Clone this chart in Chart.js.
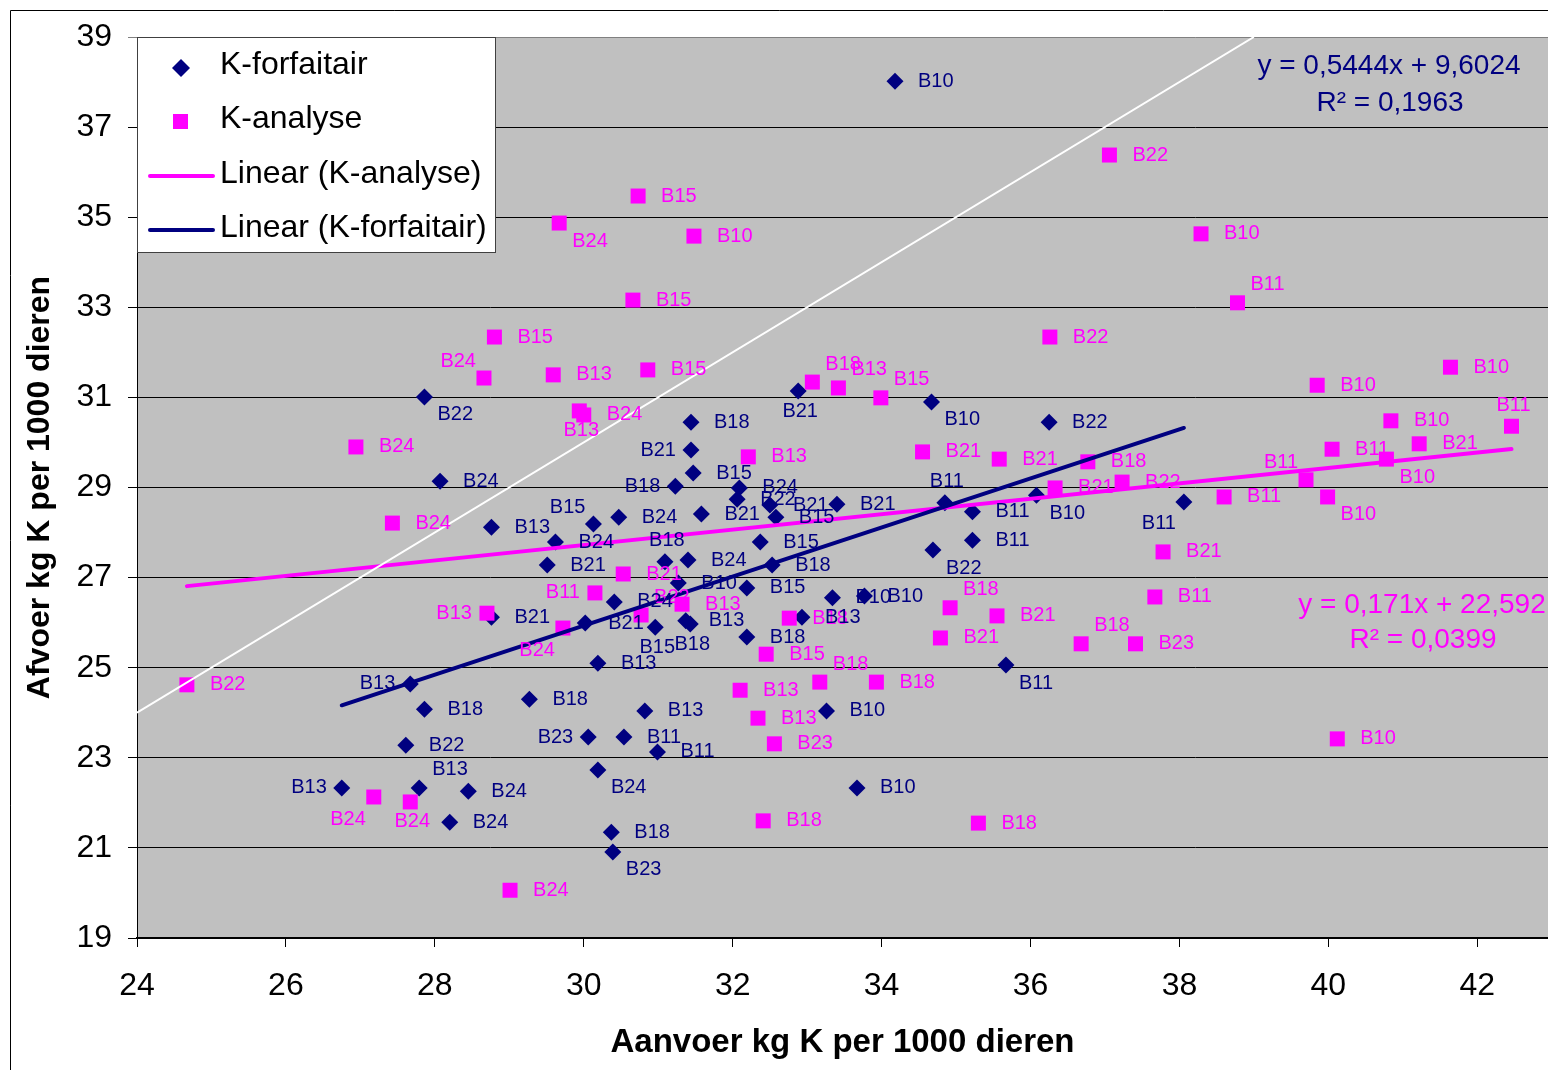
<!DOCTYPE html>
<html>
<head>
<meta charset="utf-8">
<script src="https://cdn.jsdelivr.net/npm/chart.js@4.4.1/dist/chart.umd.min.js"></script>
<style>
  html, body { margin: 0; padding: 0; background: #fff; }
  canvas { display: block; }
</style>
</head>
<body>
<canvas id="kChart" width="1548" height="1070" style="width:1548px;height:1070px"></canvas>
<script>
// Axis ticks
const xTicks = [24, 26, 28, 30, 32, 34, 36, 38, 40, 42];
const yTicks = [19, 21, 23, 25, 27, 29, 31, 33, 35, 37, 39];

// K-forfaitair: aanvoer (x), afvoer (y), bedrijf, plaats van het label
const forfaitairX = [34.18, 27.86, 28.07, 28.76, 30.13, 29.62, 29.51, 30.47, 28.76, 30.02,
                     30.41, 30.19, 30.96, 31.37, 31.43, 32.19, 32.19, 31.27, 31.09, 31.40,
                     31.44, 31.44, 31.47, 31.23, 32.09, 32.06, 32.50, 32.58, 31.58, 33.40,
                     32.37, 32.53, 32.88, 34.67, 36.25, 34.85, 35.22, 35.22, 34.69, 36.08,
                     38.06, 33.34, 33.77, 32.93, 35.67, 33.26, 33.67, 30.82, 30.54, 30.99,
                     30.37, 30.39, 30.19, 30.06, 29.27, 27.67, 27.86, 27.61, 26.75, 27.79,
                     28.45, 28.20];
const forfaitairY = [38.02, 31.01, 29.14, 28.12, 28.19, 27.79, 27.28, 28.34, 26.12, 25.99,
                     26.46, 25.10, 25.90, 26.04, 25.97, 25.68, 26.77, 26.88, 27.35, 27.39,
                     30.45, 29.83, 29.32, 29.03, 28.99, 28.74, 28.61, 28.34, 28.41, 28.63,
                     27.79, 27.28, 31.14, 30.90, 30.45, 28.66, 28.46, 27.83, 27.61, 28.83,
                     28.68, 26.55, 26.59, 26.12, 25.06, 24.04, 22.33, 24.04, 23.46, 23.13,
                     21.35, 20.91, 22.73, 23.46, 24.30, 24.64, 24.08, 23.28, 22.33, 22.33,
                     22.26, 21.57];
const forfaitairLabels = ['B10', 'B22', 'B24', 'B13', 'B15', 'B24', 'B21', 'B24', 'B21', 'B21',
                          'B24', 'B13', 'B15', 'B13', 'B18', 'B18', 'B15', 'B10', 'B18', 'B24',
                          'B18', 'B21', 'B15', 'B18', 'B24', 'B22', 'B21', 'B15', 'B21', 'B21',
                          'B15', 'B18', 'B21', 'B10', 'B22', 'B11', 'B11', 'B11', 'B22', 'B10',
                          'B11', 'B10', 'B10', 'B13', 'B11', 'B10', 'B10', 'B13', 'B11', 'B11',
                          'B18', 'B23', 'B24', 'B23', 'B18', 'B13', 'B18', 'B22', 'B13', 'B13',
                          'B24', 'B24'];
const forfaitairLabelPos = ['r', 'br', 'r', 'r', 'tl', 'r', 'r', 'r', 'r', 'r',
                            'r', 'r', 'b', 'r', 'b', 'r', 'r', 'r', 't', 'r',
                            'r', 'l', 'r', 'l', 'r', 'r', 'r', 'r', 'r', 'r',
                            'r', 'r', 'b', 'br', 'r', 't', 'r', 'r', 'br', 'br',
                            'bl', 'r', 'r', 'r', 'br', 'r', 'r', 'r', 'r', 'r',
                            'r', 'br', 'br', 'l', 'r', 'l', 'r', 'r', 'l', 'tr',
                            'r', 'r'];

// K-analyse
const analyseX = [24.67, 26.94, 27.43, 28.80, 28.66, 29.59, 29.94, 30.00, 29.67, 30.73,
                  31.48, 30.66, 30.86, 33.07, 33.42, 33.99, 32.21, 34.55, 35.58, 36.26,
                  37.06, 38.29, 38.78, 39.85, 41.64, 40.84, 42.46, 41.22, 40.05, 40.78,
                  39.70, 39.99, 38.60, 37.78, 37.67, 36.33, 36.77, 37.23, 35.55, 34.92,
                  34.79, 36.68, 37.41, 40.12, 35.30, 32.41, 32.56, 32.34, 32.10, 33.17,
                  33.93, 32.45, 29.01, 27.18, 27.67, 28.70, 30.15, 29.72, 30.53, 30.77,
                  31.32, 32.76];
const analyseY = [24.62, 29.90, 28.21, 32.34, 31.43, 31.50, 30.70, 30.61, 34.87, 35.47,
                  34.58, 33.16, 31.61, 31.34, 31.21, 30.99, 29.68, 29.79, 29.63, 32.34,
                  36.38, 34.63, 33.10, 31.27, 31.67, 30.48, 30.36, 29.97, 29.85, 29.63,
                  29.17, 28.79, 28.79, 27.57, 26.57, 28.99, 29.57, 29.12, 26.15, 26.33,
                  25.66, 25.53, 25.53, 23.42, 21.55, 21.60, 23.31, 23.88, 24.50, 24.68,
                  24.68, 25.30, 20.06, 22.13, 22.02, 26.21, 26.66, 25.88, 27.08, 26.17,
                  26.41, 26.10];
const analyseLabels = ['B22', 'B24', 'B24', 'B15', 'B24', 'B13', 'B13', 'B24', 'B24', 'B15',
                       'B10', 'B15', 'B15', 'B18', 'B13', 'B15', 'B13', 'B21', 'B21', 'B22',
                       'B22', 'B10', 'B11', 'B10', 'B10', 'B10', 'B11', 'B21', 'B11', 'B10',
                       'B11', 'B10', 'B11', 'B21', 'B11', 'B21', 'B18', 'B22', 'B21', 'B18',
                       'B21', 'B18', 'B23', 'B10', 'B18', 'B18', 'B23', 'B13', 'B13', 'B18',
                       'B18', 'B15', 'B24', 'B24', 'B24', 'B13', 'B11', 'B24', 'B21', 'B22',
                       'B13', 'B18'];
const analyseLabelPos = ['r', 'r', 'r', 'r', 'tl', 'r', 'b', 'r', 'br', 'r',
                         'r', 'r', 'r', 'tr', 'tr', 'tr', 'r', 'r', 'r', 'r',
                         'r', 'r', 'tr', 'r', 'r', 'r', 't', 'r', 'r', 'br',
                         'tl', 'br', 'r', 'r', 'r', 'r', 'r', 'r', 'r', 'tr',
                         'r', 'tr', 'r', 'r', 'r', 'r', 'r', 'r', 'r', 'tr',
                         'r', 'r', 'r', 'bl', 'b', 'l', 'l', 'bl', 'r', 'tr',
                         'r', 'r'];

// Linear trend lines: [slope, intercept], R²
const trendForfaitair = [0.5444, 9.6024];
const r2Forfaitair = 0.1963;
const trendAnalyse = [0.171, 22.592];
const r2Analyse = 0.0399;

// 1:1 reference line (aanvoer = afvoer)
const identityRange = [24, 39];

const NAVY = '#000080';
const MAGENTA = '#FF00FF';
const FONT = '"Liberation Sans", Arial, Helvetica, sans-serif';

const toPoints = (xs, ys) => xs.map((x, i) => ({ x, y: ys[i] }));
function trendPoints(xs, coef) {
  const lo = Math.min(...xs), hi = Math.max(...xs);
  return [{ x: lo, y: coef[0] * lo + coef[1] }, { x: hi, y: coef[0] * hi + coef[1] }];
}
const nl = v => String(v).replace('.', ',');
const equation = coef => 'y = ' + nl(coef[0]) + 'x + ' + nl(coef[1]);

// label offsets relative to the marker centre
const LABEL_POS = {
  r:  [23, 0, 'left'],
  l:  [-15, 0, 'right'],
  t:  [2, -21, 'center'],
  b:  [2, 20, 'center'],
  tr: [13, -18, 'left'],
  br: [13, 18, 'left'],
  tl: [-8, -17, 'right'],
  bl: [-8, 22, 'right']
};

// let the plot area run to the right edge of the canvas
const fullWidth = {
  id: 'fullWidth',
  afterLayout(chart) {
    const a = chart.chartArea, x = chart.scales.x;
    a.right = chart.width;
    a.width = a.right - a.left;
    x.right = chart.width;
    x.width = x.right - x.left;
    x.configure();
  }
};

const background = {
  id: 'background',
  beforeDraw(chart) {
    const { ctx, chartArea: a, width, height } = chart;
    ctx.save();
    ctx.fillStyle = '#fff';
    ctx.fillRect(0, 0, width, height);
    ctx.fillStyle = '#C0C0C0';
    ctx.fillRect(a.left, a.top, a.right - a.left, a.bottom - a.top);
    // outer frame
    ctx.strokeStyle = '#000';
    ctx.lineWidth = 1;
    ctx.beginPath();
    ctx.moveTo(10.5, height);
    ctx.lineTo(10.5, 10.5);
    ctx.lineTo(width, 10.5);
    ctx.stroke();
    ctx.restore();
  }
};

const pointLabels = {
  id: 'pointLabels',
  afterDatasetsDraw(chart) {
    const ctx = chart.ctx;
    chart.data.datasets.forEach((ds, di) => {
      if (!ds.pointLabels) return;
      const meta = chart.getDatasetMeta(di);
      ctx.save();
      ctx.font = '20px ' + FONT;
      ctx.fillStyle = ds.backgroundColor;
      ctx.textBaseline = 'middle';
      meta.data.forEach((pt, i) => {
        const [dx, dy, align] = LABEL_POS[ds.labelPos[i]];
        ctx.textAlign = align;
        ctx.fillText(ds.pointLabels[i], pt.x + dx, pt.y + dy);
      });
      ctx.restore();
    });
  }
};

const annotations = {
  id: 'annotations',
  afterDraw(chart) {
    const ctx = chart.ctx;
    ctx.save();
    // legend box
    const lx = 137.5, ly = 37.5, lw = 358, lh = 215;
    ctx.fillStyle = '#fff';
    ctx.fillRect(lx, ly, lw, lh);
    ctx.strokeStyle = '#404040';
    ctx.lineWidth = 1;
    ctx.strokeRect(lx, ly, lw, lh);

    ctx.fillStyle = NAVY;
    ctx.beginPath();
    ctx.moveTo(181 - 9, 68); ctx.lineTo(181, 68 - 9); ctx.lineTo(181 + 9, 68); ctx.lineTo(181, 68 + 9);
    ctx.closePath(); ctx.fill();
    ctx.fillStyle = MAGENTA;
    ctx.fillRect(173, 114, 15, 15);
    ctx.lineCap = 'round';
    ctx.lineWidth = 4;
    ctx.strokeStyle = MAGENTA;
    ctx.beginPath(); ctx.moveTo(150, 176); ctx.lineTo(213, 176); ctx.stroke();
    ctx.strokeStyle = NAVY;
    ctx.beginPath(); ctx.moveTo(150, 230); ctx.lineTo(213, 230); ctx.stroke();

    ctx.fillStyle = '#000';
    ctx.font = '32px ' + FONT;
    ctx.textAlign = 'left';
    ctx.textBaseline = 'middle';
    ctx.fillText('K-forfaitair', 220, 65);
    ctx.fillText('K-analyse', 220, 119);
    ctx.fillText('Linear (K-analyse)', 220, 174);
    ctx.fillText('Linear (K-forfaitair)', 220, 228);

    // trend line equations
    ctx.font = '28px ' + FONT;
    ctx.textAlign = 'center';
    ctx.fillStyle = NAVY;
    ctx.fillText(equation(trendForfaitair), 1389, 66);
    ctx.fillText('R² = ' + nl(r2Forfaitair), 1390, 103);
    ctx.fillStyle = MAGENTA;
    ctx.fillText(equation(trendAnalyse), 1422, 605);
    ctx.fillText('R² = ' + nl(r2Analyse), 1423, 640);
    ctx.restore();
  }
};

new Chart(document.getElementById('kChart'), {
  type: 'scatter',
  data: {
    datasets: [
      {
        label: '1:1',
        data: identityRange.map(v => ({ x: v, y: v })),
        showLine: true, borderColor: '#fff', borderWidth: 2, pointRadius: 0, order: 0
      },
      {
        label: 'Linear (K-forfaitair)',
        data: trendPoints(forfaitairX, trendForfaitair),
        showLine: true, borderColor: NAVY, borderWidth: 4, borderCapStyle: 'round',
        pointRadius: 0, order: 1
      },
      {
        label: 'Linear (K-analyse)',
        data: trendPoints(analyseX, trendAnalyse),
        showLine: true, borderColor: MAGENTA, borderWidth: 4, borderCapStyle: 'round',
        pointRadius: 0, order: 2
      },
      {
        label: 'K-analyse',
        data: toPoints(analyseX, analyseY),
        pointStyle: 'rect', pointRadius: 10.6, pointBorderWidth: 0,
        backgroundColor: MAGENTA, borderColor: MAGENTA, order: 3,
        pointLabels: analyseLabels, labelPos: analyseLabelPos
      },
      {
        label: 'K-forfaitair',
        data: toPoints(forfaitairX, forfaitairY),
        pointStyle: 'rectRot', pointRadius: 8.5, pointBorderWidth: 0,
        backgroundColor: NAVY, borderColor: NAVY, order: 4,
        pointLabels: forfaitairLabels, labelPos: forfaitairLabelPos
      }
    ]
  },
  options: {
    responsive: false,
    animation: false,
    events: [],
    layout: { padding: { top: 37, left: 0, right: 0, bottom: 0 } },
    plugins: { legend: { display: false }, tooltip: { enabled: false } },
    scales: {
      x: {
        type: 'linear', min: 24, max: 42.95,
        afterBuildTicks: s => { s.ticks = xTicks.map(v => ({ value: v })); },
        afterFit: s => { s.height = 132; },
        grid: { drawOnChartArea: false, drawTicks: true, tickLength: 9, color: '#000' },
        border: { display: true, color: '#000', width: 2 },
        ticks: { color: '#000', font: { family: FONT, size: 32 }, padding: 20, maxRotation: 0 },
        title: {
          display: true, text: 'Aanvoer kg K per 1000 dieren', color: '#000',
          font: { family: FONT, size: 33, weight: 'bold' }, padding: { top: 7, bottom: 7 }
        }
      },
      y: {
        type: 'linear', min: 19, max: 39,
        afterBuildTicks: s => { s.ticks = yTicks.map(v => ({ value: v })); },
        afterFit: s => { s.width = 137; },
        grid: {
          drawTicks: true, tickLength: 9, lineWidth: 1,
          color: c => (c.tick && c.tick.value === 39 ? '#808080' : '#000')
        },
        border: { display: true, color: '#000', width: 1 },
        ticks: { color: '#000', font: { family: FONT, size: 32 }, padding: 16 },
        title: {
          display: true, text: 'Afvoer kg K per 1000 dieren', color: '#000',
          font: { family: FONT, size: 32, weight: 'bold' }, padding: { top: 21, bottom: 21 }
        }
      }
    }
  },
  plugins: [fullWidth, background, pointLabels, annotations]
});
</script>
</body>
</html>
